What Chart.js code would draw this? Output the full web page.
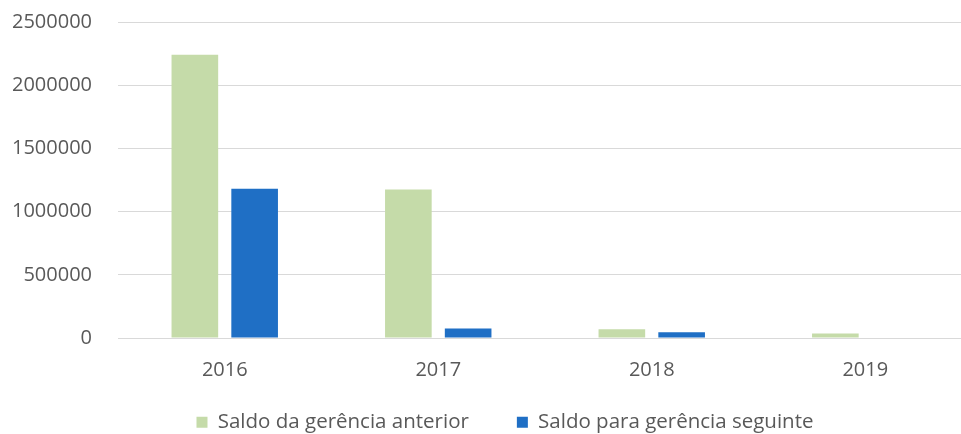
<!DOCTYPE html>
<html>
<head>
<meta charset="utf-8">
<script src="https://cdn.jsdelivr.net/npm/chart.js@4"></script>
<style>
  html, body { margin: 0; padding: 0; background: #ffffff; overflow: hidden; }
  #wrap { position: relative; width: 975px; height: 434px; }
</style>
</head>
<body>
<div id="wrap"><canvas id="c"></canvas></div>
<script>
const categories = ['2016', '2017', '2018', '2019'];
const seriesNames = ['Saldo da gerência anterior', 'Saldo para gerência seguinte'];
const saldoAnterior = [2240000, 1175000, 70000, 35000];
const saldoSeguinte = [1180000, 75000, 45000, 0];
const yTicks = [0, 500000, 1000000, 1500000, 2000000, 2500000];

const FONT = "'Open Sans', 'Liberation Sans', sans-serif";
const TEXT = '#595959';

// move the legend block to where the reference places it
const legendShift = {
  id: 'legendShift',
  afterLayout(chart) {
    const L = chart.legend;
    L.top -= 18;
    L.bottom = chart.height;
    L.height = L.bottom - L.top;
    L.left += 13; L.right += 13;
  }
};

new Chart(document.getElementById('c'), {
  type: 'bar',
  data: {
    labels: categories,
    datasets: [
      { label: seriesNames[0], data: saldoAnterior, backgroundColor: '#c5dba9', borderWidth: 0,
        categoryPercentage: 0.56, barPercentage: 0.78 },
      { label: seriesNames[1], data: saldoSeguinte, backgroundColor: '#1f6fc5', borderWidth: 0,
        categoryPercentage: 0.56, barPercentage: 0.78 }
    ]
  },
  plugins: [legendShift],
  options: {
    responsive: true,
    maintainAspectRatio: false,
    animation: false,
    layout: { padding: { top: 0, left: 12, right: 3, bottom: 0 } },
    plugins: {
      tooltip: { enabled: false },
      legend: {
        position: 'bottom',
        maxHeight: 52,
        labels: {
          boxWidth: 11, boxHeight: 11, padding: 48,
          color: TEXT,
          font: { family: FONT, size: 20.5 }
        }
      }
    },
    scales: {
      x: {
        grid: { display: false, drawTicks: false },
        border: { display: true, color: '#d9d9d9' },
        ticks: { color: TEXT, font: { family: FONT, size: 20 }, padding: 20 },
        afterFit: function (scale) { scale.height = 44; }
      },
      y: {
        min: yTicks[0],
        max: yTicks[yTicks.length - 1],
        afterBuildTicks: (scale) => { scale.ticks = yTicks.map(v => ({ value: v })); },
        afterFit: function (scale) { scale.width = 106; scale.paddingTop = 22; scale.paddingBottom = 0; },
        grid: { color: '#d9d9d9', drawTicks: false },
        border: { display: false },
        ticks: { color: TEXT, font: { family: FONT, size: 20 }, padding: 26,
                 callback: (v) => String(v) }
      }
    }
  }
});
</script>
</body>
</html>
